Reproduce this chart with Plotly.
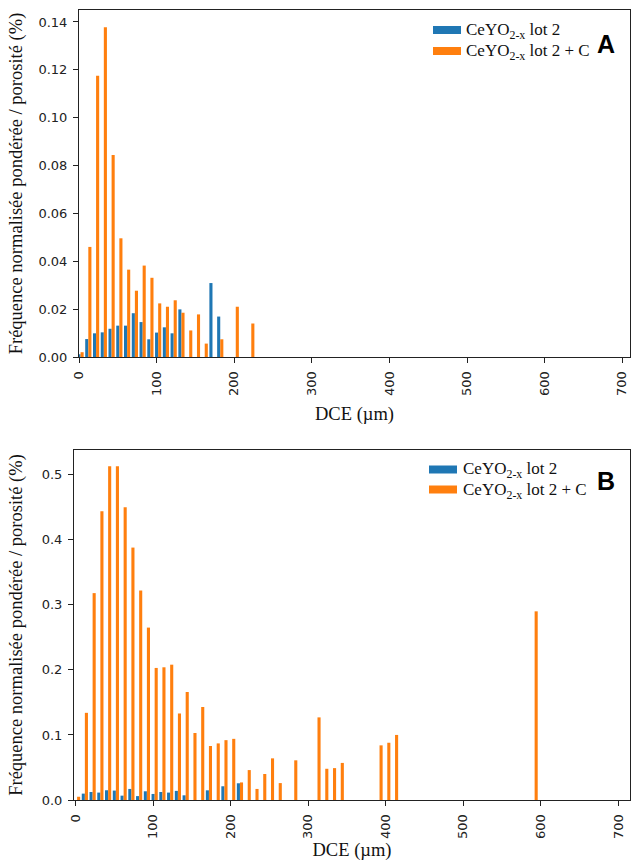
import plotly.graph_objects as go

# ---------------- data ----------------
bins_a = [10 * i for i in range(23)]
blue_a = [0.0012, 0.0075, 0.0099, 0.0103, 0.0118, 0.0131, 0.0131, 0.0183, 0.0146, 0.0074,
          0.0102, 0.0124, 0.0099, 0.0199, 0, 0, 0, 0.0309, 0.0169, 0, 0, 0, 0]
orange_a = [0.002, 0.046, 0.1175, 0.1378, 0.0844, 0.0496, 0.0365, 0.0277, 0.0382, 0.0331,
            0.0224, 0.021, 0.0237, 0.0185, 0.0111, 0.0178, 0.0056, 0, 0.0074, 0, 0.021, 0, 0.014]

bins_b = [10 * i for i in range(60)]
blue_b = [0, 0.0098, 0.0123, 0.0114, 0.015, 0.0145, 0.0067, 0.017, 0.006, 0.0134,
          0.0093, 0.0123, 0.0114, 0.014, 0.0072, 0, 0, 0.0149, 0, 0.0211,
          0, 0.0257] + [0] * 38
orange_b = [0.005, 0.134, 0.318, 0.444, 0.513, 0.513, 0.450, 0.388, 0.322, 0.265,
            0.203, 0.204, 0.208, 0.133, 0.166, 0.103, 0.143, 0.083, 0.087, 0.092,
            0.094, 0.027, 0.046, 0.017, 0.040, 0.064, 0.026, 0, 0.061, 0,
            0, 0.127, 0.048, 0.049, 0.057, 0, 0, 0, 0, 0.084,
            0.088, 0.100] + [0] * 17 + [0.290]

x_ticks = [0, 100, 200, 300, 400, 500, 600, 700]
y_ticks_a = [0, 0.02, 0.04, 0.06, 0.08, 0.10, 0.12, 0.14]
y_ticks_b = [0, 0.1, 0.2, 0.3, 0.4, 0.5]

name_1 = "CeYO<sub>2-x</sub> lot 2"
name_2 = "CeYO<sub>2-x</sub> lot 2 + C"
series_names = [name_1, name_2]
ytitle = "Fréquence normalisée pondérée / porosité (%)"
xtitle = "DCE (µm)"

BLUE = "#1f77b4"
ORANGE = "#ff7f0e"
COLORS = [BLUE, ORANGE]
W, H = 632, 861
SERIF = "Liberation Serif"
SANS = "DejaVu Sans"

fig = go.Figure()
for (xs, ys, nm, col, off, ax) in [
    (bins_a, blue_a, name_1, BLUE, -2, ("x", "y")),
    (bins_a, orange_a, name_2, ORANGE, 2, ("x", "y")),
    (bins_b, blue_b, name_1, BLUE, -2, ("x2", "y2")),
    (bins_b, orange_b, name_2, ORANGE, 2, ("x2", "y2")),
]:
    fig.add_trace(go.Bar(x=xs, y=ys, name=nm, marker=dict(color=col, line=dict(width=0)),
                         width=4, offset=off, xaxis=ax[0], yaxis=ax[1], showlegend=False))


def px_x(p):
    return p / W


def px_y(p):
    return 1 - p / H


axis_common = dict(showline=True, mirror=True, linecolor="#222", linewidth=1,
                   ticks="outside", ticklen=5, tickwidth=1, tickcolor="#222",
                   showgrid=False, zeroline=False, automargin=False,
                   ticklabelstandoff=3,
                   tickfont=dict(family=SANS, size=13, color="#222"))
title_font = dict(family=SERIF, size=18.5, color="#111")

# manual legends (patch + label), one per panel
shapes = []
annotations = []
for (px0, tx, rows) in [(433, 464, (30, 51)), (429, 461, (469.5, 489.5))]:
    for k, yc in enumerate(rows):
        shapes.append(dict(type="rect", xref="paper", yref="paper",
                           x0=px_x(px0), x1=px_x(px0 + 28), y0=px_y(yc - 4), y1=px_y(yc + 4),
                           fillcolor=COLORS[k], line=dict(width=0)))
        annotations.append(dict(text=series_names[k], x=px_x(tx), y=px_y(yc + 1),
                                xref="paper", yref="paper", xanchor="left", yanchor="middle",
                                showarrow=False,
                                font=dict(family=SERIF, size=17, color="#111")))

for (lbl, xc, yc) in [("A", 606, 44), ("B", 606, 481.5)]:
    annotations.append(dict(text="<b>" + lbl + "</b>", x=px_x(xc), y=px_y(yc),
                            xref="paper", yref="paper", xanchor="center", yanchor="middle",
                            showarrow=False,
                            font=dict(family="Liberation Sans", size=25, color="black")))

fig.update_layout(
    width=W, height=H, margin=dict(l=0, r=0, t=0, b=0, autoexpand=False),
    paper_bgcolor="white", plot_bgcolor="white", barmode="overlay",
    showlegend=False,
    xaxis=dict(domain=[px_x(79), px_x(630)], anchor="y", range=[0, 710],
               tickvals=x_ticks, tickangle=-90,
               title=dict(text=xtitle, font=title_font, standoff=12),
               **axis_common),
    yaxis=dict(domain=[px_y(357), px_y(10)], anchor="x", range=[0, 0.145],
               tickvals=y_ticks_a, tickformat=".2f",
               title=dict(text=ytitle, font=title_font, standoff=10),
               **axis_common),
    xaxis2=dict(domain=[px_x(74), px_x(630)], anchor="y2", range=[-2, 715],
                tickvals=x_ticks, tickangle=-90,
                title=dict(text=xtitle, font=title_font, standoff=12),
                **axis_common),
    yaxis2=dict(domain=[px_y(800), px_y(450)], anchor="x2", range=[0, 0.538],
                tickvals=y_ticks_b, tickformat=".1f",
                title=dict(text=ytitle, font=title_font, standoff=14),
                **axis_common),
    shapes=shapes,
    annotations=annotations,
)

fig.write_html("out.html", config={"displayModeBar": False},
               post_script="document.body.style.margin='0px';")
